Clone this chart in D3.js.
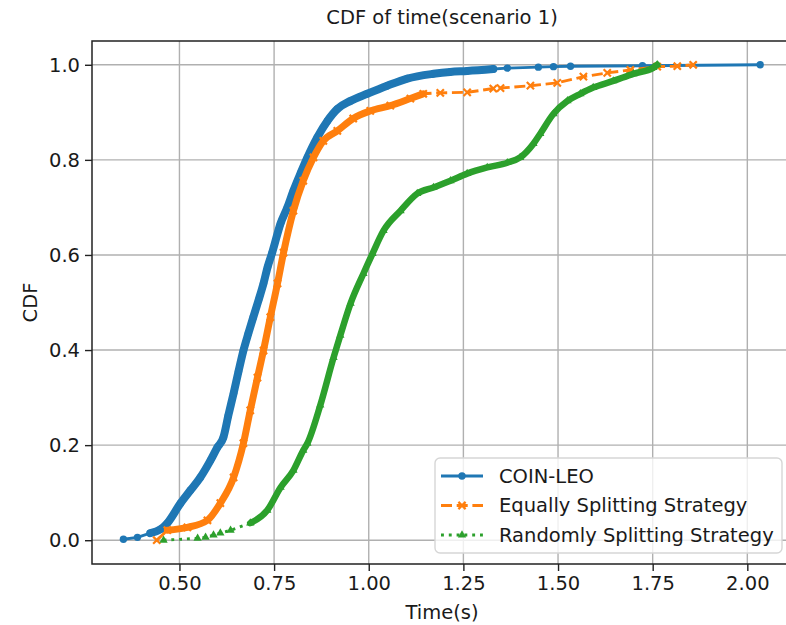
<!DOCTYPE html>
<html>
<head>
<meta charset="utf-8">
<script src="https://cdn.jsdelivr.net/npm/d3@7"></script>
<style>
  body { margin: 0; background: #fff; }
  text { font-family: "DejaVu Sans", sans-serif; fill: #1a1a1a; }
</style>
</head>
<body>
<div id="app"></div>
<script>
// Series: [time (s), CDF]
const coinLeo = [
  [0.352, 0.002], [0.389, 0.006], [0.423, 0.015], [0.450, 0.023], [0.468, 0.036],
  [0.503, 0.078], [0.529, 0.105], [0.555, 0.132], [0.582, 0.168], [0.600, 0.195],
  [0.616, 0.216], [0.629, 0.262], [0.643, 0.309], [0.656, 0.355], [0.669, 0.399],
  [0.682, 0.435], [0.695, 0.469], [0.709, 0.505], [0.722, 0.540], [0.733, 0.575],
  [0.745, 0.605], [0.767, 0.666], [0.785, 0.700], [0.801, 0.735], [0.820, 0.772],
  [0.838, 0.805], [0.864, 0.847], [0.891, 0.882], [0.917, 0.907], [0.952, 0.924],
  [0.996, 0.939], [1.049, 0.956], [1.102, 0.971], [1.171, 0.981], [1.215, 0.985],
  [1.260, 0.987], [1.329, 0.991], [1.366, 0.993], [1.448, 0.995], [1.488, 0.996],
  [1.533, 0.997], [1.723, 0.998], [2.034, 1.000]
];
const equallySplit = [
  [0.440, 0.000], [0.468, 0.021], [0.521, 0.027], [0.574, 0.042], [0.608, 0.078],
  [0.643, 0.132], [0.669, 0.204], [0.687, 0.273], [0.706, 0.342], [0.722, 0.399],
  [0.740, 0.469], [0.759, 0.540], [0.775, 0.605], [0.801, 0.693], [0.827, 0.756],
  [0.854, 0.805], [0.880, 0.840], [0.917, 0.861], [0.959, 0.887], [1.004, 0.903],
  [1.057, 0.914], [1.110, 0.929], [1.144, 0.939], [1.189, 0.941], [1.260, 0.942],
  [1.329, 0.950], [1.348, 0.951], [1.427, 0.956], [1.498, 0.962], [1.567, 0.975],
  [1.630, 0.983], [1.691, 0.989], [1.762, 0.996], [1.815, 0.997], [1.857, 1.000]
];
const randomlySplit = [
  [0.458, 0.000], [0.548, 0.004], [0.569, 0.006], [0.590, 0.011], [0.608, 0.015],
  [0.635, 0.021], [0.687, 0.036], [0.732, 0.063], [0.767, 0.111], [0.801, 0.147],
  [0.827, 0.189], [0.838, 0.204], [0.872, 0.284], [0.907, 0.384], [0.925, 0.431],
  [0.952, 0.498], [0.986, 0.561], [1.010, 0.603], [1.039, 0.651], [1.084, 0.693],
  [1.128, 0.729], [1.171, 0.742], [1.216, 0.756], [1.260, 0.771], [1.313, 0.784],
  [1.366, 0.794], [1.400, 0.805], [1.435, 0.834], [1.453, 0.855], [1.488, 0.897],
  [1.525, 0.924], [1.559, 0.939], [1.593, 0.952], [1.646, 0.966], [1.699, 0.981],
  [1.752, 0.994], [1.762, 1.000]
];
const seriesNames = ["COIN-LEO", "Equally Splitting Strategy", "Randomly Splitting Strategy"];
const xTicks = [0.5, 0.75, 1.0, 1.25, 1.5, 1.75, 2.0];
const yTicks = [0.0, 0.2, 0.4, 0.6, 0.8, 1.0];

const width = 786;
const height = 625;
const plotLeft = 92, plotRight = 792, plotTop = 41, plotBottom = 564;

const xScale = d3.scaleLinear().domain([0.269, 2.118]).range([plotLeft, plotRight]);
const yScale = d3.scaleLinear().domain([-0.05, 1.05]).range([plotBottom, plotTop]);

const svg = d3.select("#app").append("svg")
  .attr("width", width)
  .attr("height", height);

// Clip to plot area
svg.append("clipPath").attr("id", "plot-clip")
  .append("rect")
  .attr("x", plotLeft).attr("y", plotTop)
  .attr("width", plotRight - plotLeft).attr("height", plotBottom - plotTop);

// Grid
const grid = svg.append("g").attr("stroke", "#b0b0b0").attr("stroke-width", 1.4);
grid.selectAll(".vg").data(xTicks).enter().append("line")
  .attr("x1", d => xScale(d)).attr("x2", d => xScale(d))
  .attr("y1", plotTop).attr("y2", plotBottom);
grid.selectAll(".hg").data(yTicks).enter().append("line")
  .attr("x1", plotLeft).attr("x2", plotRight)
  .attr("y1", d => yScale(d)).attr("y2", d => yScale(d));

// Axes
const xAxis = d3.axisBottom(xScale).tickValues(xTicks).tickFormat(d3.format(".2f")).tickSize(7).tickPadding(5);
const yAxis = d3.axisLeft(yScale).tickValues(yTicks).tickFormat(d3.format(".1f")).tickSize(7).tickPadding(5);

const gx = svg.append("g").attr("transform", `translate(0, ${plotBottom})`).call(xAxis);
const gy = svg.append("g").attr("transform", `translate(${plotLeft}, 0)`).call(yAxis);
[gx, gy].forEach(g => {
  g.select(".domain").remove();
  g.selectAll(".tick line").attr("stroke", "#222").attr("stroke-width", 1.4);
  g.selectAll(".tick text").attr("font-size", 19.5).attr("font-family", "DejaVu Sans").attr("fill", "#1a1a1a");
});

// Series drawing
const styles = [
  { data: coinLeo, color: "#1f77b4", dash: null, marker: "circle", band: [0.42, 1.33], bandW: 8 },
  { data: equallySplit, color: "#ff7f0e", dash: "11,4.7", marker: "x", band: [0.46, 1.145], bandW: 7 },
  { data: randomlySplit, color: "#2ca02c", dash: "2.9,4.9", marker: "tri", band: [0.66, 1.77], bandW: 6.5 }
];

const line = d3.line().x(d => xScale(d[0])).y(d => yScale(d[1]));
const bandLine = d3.line().x(d => xScale(d[0])).y(d => yScale(d[1])).curve(d3.curveMonotoneX);
const plot = svg.append("g").attr("clip-path", "url(#plot-clip)");

function drawMarker(g, type, color, x, y) {
  if (type === "circle") {
    g.append("circle").attr("cx", x).attr("cy", y).attr("r", 3.7).attr("fill", color);
  } else if (type === "x") {
    const s = 3.6;
    g.append("path")
      .attr("d", `M${x - s},${y - s}L${x + s},${y + s}M${x - s},${y + s}L${x + s},${y - s}`)
      .attr("stroke", color).attr("stroke-width", 2.2).attr("fill", "none");
  } else {
    g.append("path")
      .attr("d", d3.symbol(d3.symbolTriangle, 30)())
      .attr("transform", `translate(${x},${y})`)
      .attr("fill", color);
  }
}

styles.forEach(s => {
  const g = plot.append("g");
  // dense band where the original markers overlap
  const dense = s.data.filter(d => d[0] >= s.band[0] && d[0] <= s.band[1]);
  g.append("path").datum(dense)
    .attr("d", bandLine)
    .attr("fill", "none")
    .attr("stroke", s.color)
    .attr("stroke-width", s.bandW)
    .attr("stroke-linejoin", "round")
    .attr("stroke-linecap", "round");
  g.append("path").datum(s.data)
    .attr("d", line)
    .attr("fill", "none")
    .attr("stroke", s.color)
    .attr("stroke-width", 2.9)
    .attr("stroke-dasharray", s.dash);
  s.data.forEach(d => drawMarker(g, s.marker, s.color, xScale(d[0]), yScale(d[1])));
});

// Spines (left, top, bottom; right is outside the picture)
svg.append("path")
  .attr("d", `M${plotRight},${plotTop}H${plotLeft}V${plotBottom}H${plotRight}`)
  .attr("fill", "none").attr("stroke", "#222").attr("stroke-width", 1.5);

// Title and labels
svg.append("text").text("CDF of time(scenario 1)")
  .attr("x", (plotLeft + plotRight) / 2).attr("y", 24)
  .attr("text-anchor", "middle").attr("font-size", 19.5);

svg.append("text").text("Time(s)")
  .attr("x", (plotLeft + plotRight) / 2).attr("y", 619)
  .attr("text-anchor", "middle").attr("font-size", 19.5);

svg.append("text").text("CDF")
  .attr("transform", `translate(37, ${(plotTop + plotBottom) / 2}) rotate(-90)`)
  .attr("text-anchor", "middle").attr("font-size", 19.5);

// Legend
const legend = svg.append("g").attr("transform", "translate(435, 458)");
legend.append("rect")
  .attr("width", 347).attr("height", 95)
  .attr("rx", 5)
  .attr("fill", "#fff").attr("fill-opacity", 0.8)
  .attr("stroke", "#d6d6d6").attr("stroke-width", 1.4);

seriesNames.forEach((name, i) => {
  const s = styles[i];
  const y = 18 + i * 29.5;
  legend.append("line")
    .attr("x1", 6).attr("x2", 48).attr("y1", y).attr("y2", y)
    .attr("stroke", s.color).attr("stroke-width", 2.9)
    .attr("stroke-dasharray", s.dash);
  drawMarker(legend, s.marker, s.color, 27, y);
  legend.append("text").text(name)
    .attr("x", 64).attr("y", y)
    .attr("dy", "0.35em")
    .attr("font-size", 19.5);
});
</script>
</body>
</html>
